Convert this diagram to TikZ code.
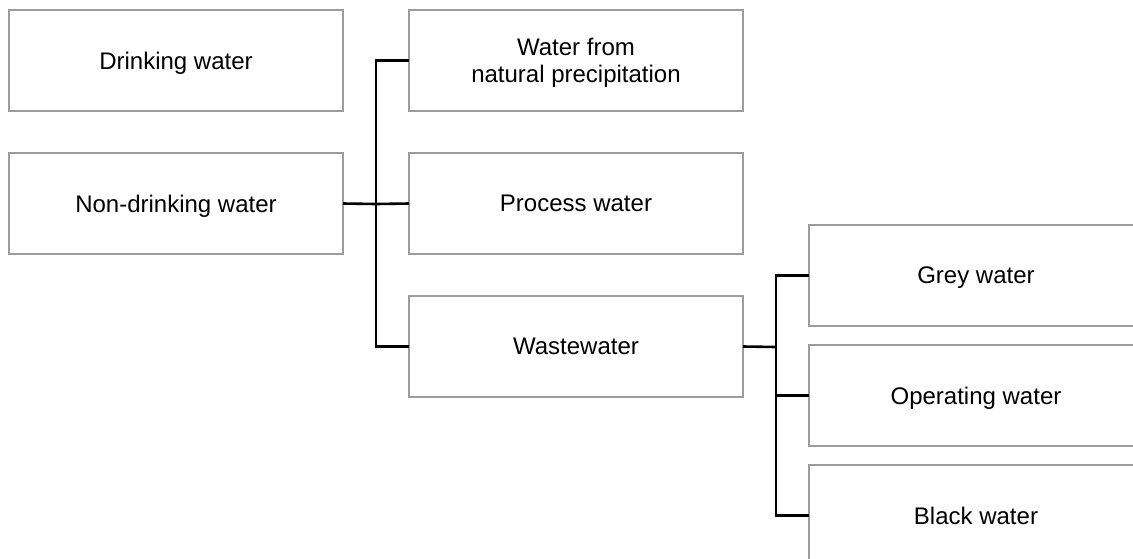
\documentclass[tikz,border=0pt]{standalone}
\usepackage{fontspec}
\setmainfont{Liberation Sans}
\begin{document}
\begin{tikzpicture}[x=1pt,y=-1pt,
  box/.style={draw=boxgrey,line width=1.4pt,minimum width=334pt,minimum height=101pt,
    inner sep=0pt,outer sep=0pt,anchor=north west,align=center,text depth=0pt,
    font=\fontsize{24}{26.5}\selectfont},
  conn/.style={draw=black,line width=2.6pt,line join=miter}]
\definecolor{boxgrey}{HTML}{9C9C9C}
\useasboundingbox (0,0) rectangle (1133,558);
\clip (0,0) rectangle (1133,558);
\node[box] (dw) at (9,10) {Drinking water};
\node[box] (nd) at (9,153) {Non-drinking water};
\node[box] (wn) at (409,10) {Water from\\natural precipitation};
\node[box] (pw) at (409,153) {Process water};
\node[box] (ww) at (409,296) {Wastewater};
\node[box] (gw) at (809,225) {Grey water};
\node[box] (ow) at (809,345) {Operating water};
\node[box] (bw) at (809,465) {Black water};
\coordinate (j1) at (376,204);
\coordinate (j2) at (776,347);
\draw[conn] (nd.east) -- (j1);
\draw[conn] (j1) |- (wn.west);
\draw[conn] (j1) -- (pw.west);
\draw[conn] (j1) |- (ww.west);
\draw[conn] (ww.east) -- (j2);
\draw[conn] (j2) |- (gw.west);
\draw[conn] (j2) |- (ow.west);
\draw[conn] (j2) |- (bw.west);
\end{tikzpicture}
\end{document}
